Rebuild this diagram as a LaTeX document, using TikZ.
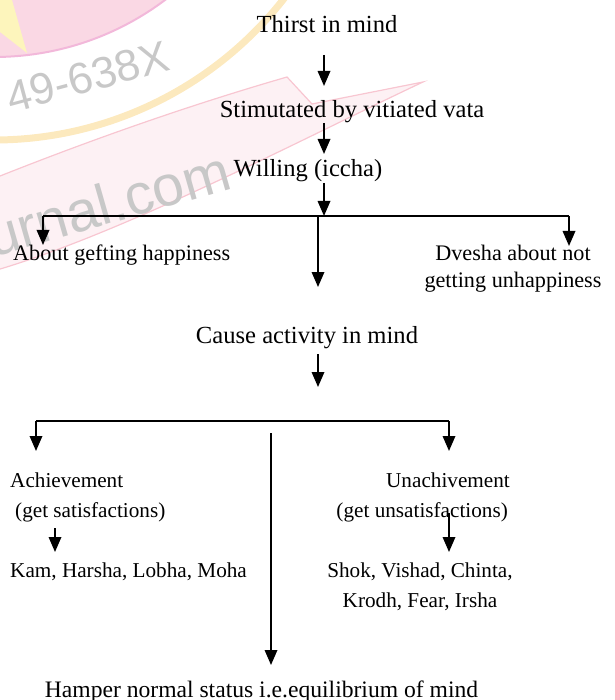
\documentclass[tikz,border=0pt]{standalone}
\usepackage{fontspec}
\setmainfont{Liberation Serif}
\newfontfamily\wmfont{Liberation Sans}
\usetikzlibrary{arrows.meta,calc}
\definecolor{wmpink}{HTML}{FAD8E4}
\definecolor{wmpinkedge}{HTML}{F2B8DA}
\definecolor{wmyellow}{HTML}{FDF5BC}
\definecolor{wmarc}{HTML}{FCE9BE}
\definecolor{wmrib}{HTML}{FDF1F4}
\definecolor{wmribedge}{HTML}{F8C6D1}
\definecolor{wmgray}{HTML}{C8C8C8}
\tikzset{
  ln/.style={line width=1.8pt},
  arr/.style={line width=1.8pt,-{Triangle[width=12.5pt,length=15pt]}},
  top/.style={font=\fontsize{24.6}{28}\selectfont, inner sep=0pt, anchor=base},
  mid/.style={font=\fontsize{22.2}{27}\selectfont, inner sep=0pt, anchor=base},
  low/.style={font=\fontsize{21.2}{29.5}\selectfont, inner sep=0pt, anchor=base},
  ham/.style={font=\fontsize{23.6}{28}\selectfont, inner sep=0pt, anchor=base},
  wmtext/.style={text=wmgray, inner sep=0pt, font=\wmfont\fontsize{44}{44}\selectfont},
  wmtextb/.style={text=wmgray, inner sep=0pt, font=\wmfont\fontsize{57}{57}\selectfont},
}
\begin{document}
\begin{tikzpicture}[x=1pt,y=-1pt]
\useasboundingbox (0,0) rectangle (614,700);
% watermark
\begin{scope}
  \fill[wmrib, draw=wmribedge, line width=1.2pt]
    (287,77) .. controls (190,105) and (90,140) .. (-10,180)
    -- (-10,272) .. controls (120,235) and (300,140) .. (423,82)
    -- (312,104) -- cycle;
  \fill[wmpink, draw=wmpinkedge, line width=2pt] (-6,-228) circle[radius=285];
  \fill[wmyellow] (0,0) -- (12,0) -- (27,53) -- (0,32) -- cycle;
  \draw[wmarc, line width=7pt] ([shift={(-6,-228)}]25:368) arc[start angle=25,end angle=95,radius=368];
  \node[wmtext, rotate=15, anchor=base east] (wm1) at (172,70) {49-638X};
  \node[wmtextb, rotate=16, anchor=base east] (wm2) at (234,188) {ournal.com};
\end{scope}
% nodes
\node[top] (thirst) at (327,33) {Thirst in mind};
\node[top] (stim) at (352,118) {Stimutated by vitiated vata};
\node[top] (will) at (308,177) {Willing (iccha)};
\node[mid, anchor=base west] (about) at (13,260) {About gefting happiness};
\node[mid, align=center] (dvesha) at (513,287) {Dvesha about not\\getting unhappiness};
\node[top] (cause) at (307,343) {Cause activity in mind};
\node[low, anchor=base west, align=left] (achv) at (10,517) {Achievement\\\hspace*{5pt}(get satisfactions)};
\node[low, anchor=base east, align=right] (unach) at (510,517) {Unachivement\\(get unsatisfactions)\hspace*{2pt}};
\node[low, anchor=base west] (kam) at (10,577) {Kam, Harsha, Lobha, Moha};
\node[low, align=center] (shok) at (420,607) {Shok, Vishad, Chinta,\\Krodh, Fear, Irsha};
\node[ham] (hamper) at (261.5,697) {Hamper normal status i.e.equilibrium of mind};
% coordinates
\coordinate (mx) at (324,0);
\coordinate (b1) at (324,216);
\coordinate (bl) at (43,216);
\coordinate (br) at (569,216);
\coordinate (bc) at (318,216);
\coordinate (c1) at (318,387);
\coordinate (l2) at (36,421);
\coordinate (r2) at (449,421);
\coordinate (c3) at (271,433);
\coordinate (kx) at (55,0);
% connectors
\draw[arr] ($(thirst.base -| mx)+(0,22)$) -- ($(stim.base -| mx)+(0,-32)$);
\draw[arr] ($(stim.base -| mx)+(0,5)$) -- ($(will.base -| mx)+(0,-23)$);
\draw[arr] ($(will.base -| mx)+(0,6)$) -- (b1);
\draw[ln] (bl) -- (br);
\draw[arr] (bl) -- ($(about.base -| bl)+(0,-15)$);
\draw[arr] (br) -- ($(dvesha.base -| br)+(0,-41)$);
\draw[arr] (bc) -- ($(cause.base -| bc)+(0,-56)$);
\draw[arr] ($(cause.base -| c1)+(0,11)$) -- (c1);
\draw[ln] (l2) -- (r2);
\draw[arr] (l2) -- ($(achv.base -| l2)+(0,-66)$);
\draw[arr] (r2) -- ($(unach.base -| r2)+(0,-66)$);
\draw[arr] (c3) -- ($(hamper.base -| c3)+(0,-32)$);
\draw[arr] ($(achv.base -| kx)+(0,11)$) -- ($(kam.base -| kx)+(0,-25)$);
\draw[arr] ($(unach.base -| r2)+(0,-4)$) -- ($(shok.base -| r2)+(0,-55)$);
\end{tikzpicture}
\end{document}
